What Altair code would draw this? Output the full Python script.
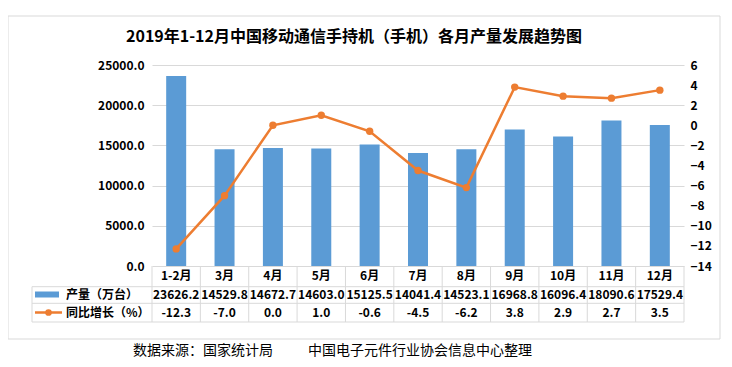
import altair as alt
import pandas as pd

months = ["1-2月", "3月", "4月", "5月", "6月", "7月", "8月", "9月", "10月", "11月", "12月"]
output = [23626.2, 14529.8, 14672.7, 14603.0, 15125.5, 14041.4, 14523.1, 16968.8, 16096.4, 18090.6, 17529.4]
yoy = [-12.3, -7.0, 0.0, 1.0, -0.6, -4.5, -6.2, 3.8, 2.9, 2.7, 3.5]
left_ticks = [0, 5000, 10000, 15000, 20000, 25000]
right_ticks = [-14, -12, -10, -8, -6, -4, -2, 0, 2, 4, 6]
title_text = "2019年1-12月中国移动通信手持机（手机）各月产量发展趋势图"
row_labels = ["产量（万台）", "同比增长（%）"]
source_text = "数据来源：国家统计局"
compiler_text = "中国电子元件行业协会信息中心整理"

W, H = 532, 201
FONT = "Noto Sans CJK SC"
BLUE = "#5b9bd5"
ORANGE = "#ed7d31"
GRID = "#d9d9d9"
TXT = "#000000"

# table geometry (view coordinates)
HDR_Y = 210.5
ROW1_Y = 229.5
ROW2_Y = 247.5
LINE_Y = [221.7, 238.3, 257]
TABLE_LEFT = -120

df = pd.DataFrame({"month": months, "output": output, "yoy": yoy})
df["output_s"] = [f"{v:.1f}" for v in output]
df["yoy_s"] = [f"{v:.1f}" for v in yoy]

xscale = alt.Scale(domain=months, paddingInner=0, paddingOuter=0)
xenc = alt.X("month:N", sort=months, scale=xscale, axis=None)

base = alt.Chart(df)

bars = base.mark_bar(color=BLUE, size=20).encode(
    x=xenc,
    y=alt.Y(
        "output:Q",
        scale=alt.Scale(domain=[0, 25000], nice=False),
        axis=alt.Axis(
            values=left_ticks, format=".1f", orient="left", title=None,
            grid=True, gridColor=GRID, gridWidth=1, domain=False, ticks=False,
            labelFont=FONT, labelFontWeight="bold", labelFontSize=12,
            labelColor=TXT, labelPadding=8,
        ),
    ),
)

line = base.mark_line(
    color=ORANGE, strokeWidth=2.5,
    point=alt.OverlayMarkDef(filled=True, size=55, color=ORANGE, opacity=1),
).encode(
    x=xenc,
    y=alt.Y(
        "yoy:Q",
        scale=alt.Scale(domain=[-14, 6], nice=False),
        axis=alt.Axis(
            values=right_ticks, orient="right", title=None, grid=False,
            domain=False, ticks=False, labelFont=FONT, labelFontWeight="bold",
            labelFontSize=12, labelColor=TXT, labelPadding=6,
        ),
    ),
)

txt_kw = dict(font=FONT, fontWeight="bold", fontSize=12, color=TXT, baseline="middle")

hdr = base.mark_text(**txt_kw).encode(x=xenc, y=alt.value(HDR_Y), text="month:N")
row1 = base.mark_text(**txt_kw).encode(x=xenc, y=alt.value(ROW1_Y), text="output_s:N")
row2 = base.mark_text(**txt_kw).encode(x=xenc, y=alt.value(ROW2_Y), text="yoy_s:N")

vrules = base.mark_rule(color=GRID, strokeWidth=1).encode(
    x=alt.X("month:N", sort=months, scale=xscale, axis=None, bandPosition=0),
    y=alt.value(H), y2=alt.value(LINE_Y[2]),
)
vlast = base.transform_filter(alt.datum.month == months[-1]).mark_rule(color=GRID, strokeWidth=1).encode(
    x=alt.X("month:N", sort=months, scale=xscale, axis=None, bandPosition=1),
    y=alt.value(H), y2=alt.value(LINE_Y[2]),
)

one = pd.DataFrame({"a": [0]})

hlines = [
    alt.Chart(one).mark_rule(color=GRID, strokeWidth=1).encode(
        x=alt.value(TABLE_LEFT), x2=alt.value(W), y=alt.value(yy)
    )
    for yy in LINE_Y
]
vleft = alt.Chart(one).mark_rule(color=GRID, strokeWidth=1).encode(
    x=alt.value(TABLE_LEFT), y=alt.value(LINE_Y[0]), y2=alt.value(LINE_Y[2])
)

# legend swatches in table
sw_bar = alt.Chart(one).mark_rect(color=BLUE).encode(
    x=alt.value(-117), x2=alt.value(-93), y=alt.value(ROW1_Y - 3), y2=alt.value(ROW1_Y + 3)
)
sw_line = alt.Chart(one).mark_rule(color=ORANGE, strokeWidth=2.5).encode(
    x=alt.value(-117), x2=alt.value(-90), y=alt.value(ROW2_Y)
)
sw_pt = alt.Chart(one).mark_point(filled=True, size=45, color=ORANGE, opacity=1).encode(
    x=alt.value(-103.5), y=alt.value(ROW2_Y)
)

lab_df = pd.DataFrame({"label": row_labels})
lab1 = alt.Chart(lab_df).transform_filter(alt.datum.label == row_labels[0]).mark_text(
    align="left", **txt_kw).encode(x=alt.value(-86), y=alt.value(ROW1_Y), text="label:N")
lab2 = alt.Chart(lab_df).transform_filter(alt.datum.label == row_labels[1]).mark_text(
    align="left", **txt_kw).encode(x=alt.value(-86), y=alt.value(ROW2_Y), text="label:N")

frame = alt.Chart(one).mark_rect(fill="white", fillOpacity=0, stroke=GRID, strokeWidth=1).encode(
    x=alt.value(-144), x2=alt.value(568), y=alt.value(-49), y2=alt.value(274)
)

title = alt.Chart(pd.DataFrame({"t": [title_text]})).mark_text(
    font=FONT, fontWeight="bold", fontSize=16, color=TXT, align="center", baseline="middle"
).encode(x=alt.value(202), y=alt.value(-28), text="t:N")

foot = pd.DataFrame({"s": [source_text], "c": [compiler_text]})
foot1 = alt.Chart(foot).mark_text(
    font=FONT, fontSize=14, color=TXT, align="left", baseline="middle"
).encode(x=alt.value(-19), y=alt.value(286), text="s:N")
foot2 = alt.Chart(foot).mark_text(
    font=FONT, fontSize=14, color=TXT, align="left", baseline="middle"
).encode(x=alt.value(156), y=alt.value(286), text="c:N")

chart = alt.layer(
    frame, bars, line, vrules, vlast, *hlines, vleft, hdr, row1, row2,
    sw_bar, sw_line, sw_pt, lab1, lab2, title, foot1, foot2,
).resolve_scale(y="independent").properties(
    width=W, height=H,
    autosize=alt.AutoSizeParams(type="none"),
    padding={"left": 144, "top": 57, "right": 40, "bottom": 92},
    background="white",
).configure_view(stroke=None)

chart.save("out.html", embed_options={"renderer": "svg", "actions": False})
